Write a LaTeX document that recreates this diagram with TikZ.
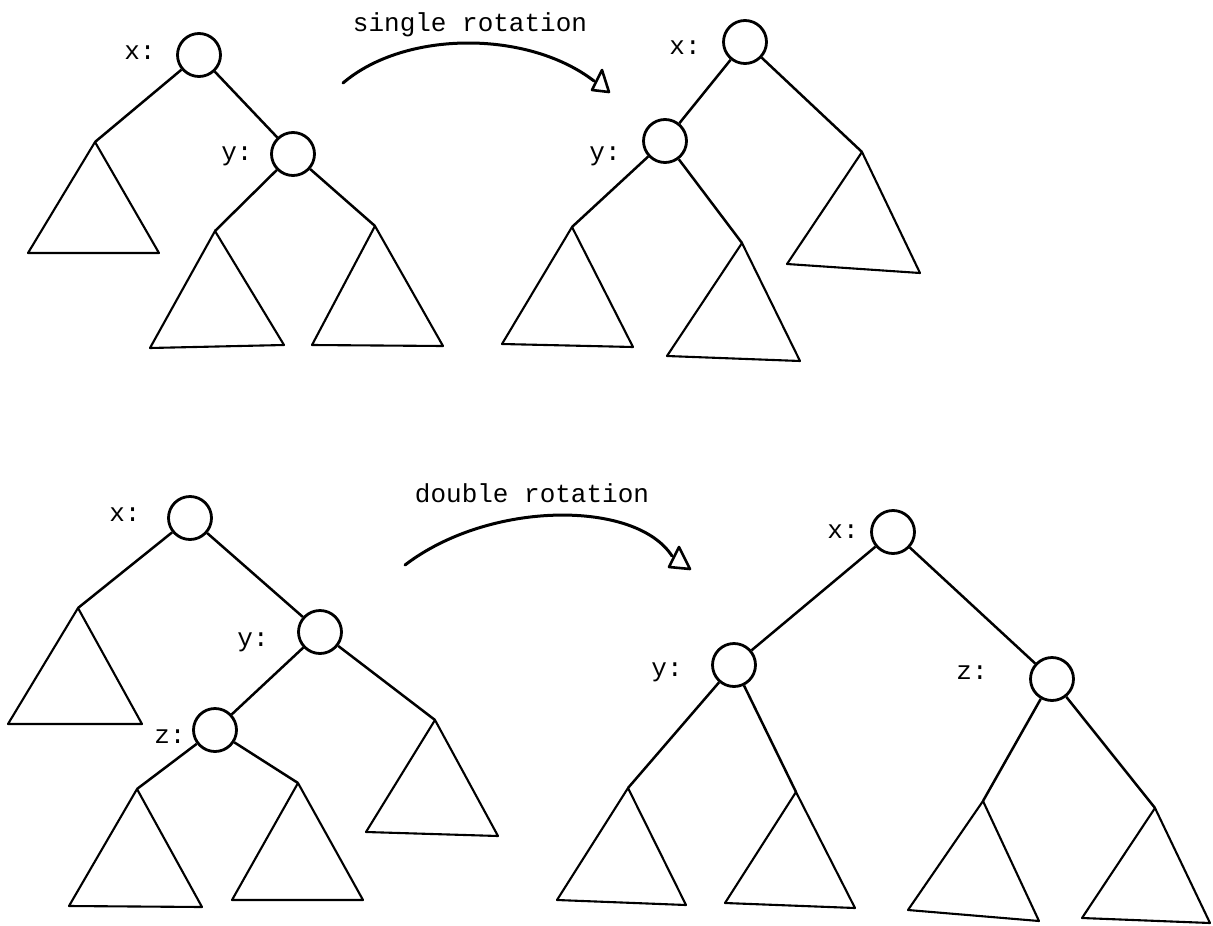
\documentclass[tikz,border=0pt]{standalone}
\usepackage{fontspec}
\setmonofont{Liberation Mono}
\begin{document}
\begin{tikzpicture}[x=1pt,y=-1pt,
  nd/.style={circle,draw,line width=2.8pt,minimum size=43pt,inner sep=0pt},
  lbl/.style={font=\ttfamily\fontsize{26}{26}\selectfont,inner sep=0pt},
  edge/.style={line width=2.5pt},
  tri/.style={line width=2.1pt,line join=round},
  rot/.style={line width=3pt,line cap=round},
  delta/.style={line width=2.6pt,line join=round}]
\useasboundingbox (0,0) rectangle (1213,926);

% ---------- top-left tree ----------
\node[nd] (Ax) at (199,55) {};
\node[lbl] (Axl) at (140,53) {x:};
\node[nd] (Ay) at (293,154) {};
\node[lbl] (Ayl) at (237,156) {y:};
\coordinate (Al) at (95,142);
\coordinate (Ayla) at (215,231);
\coordinate (Ayra) at (375,226);
\draw[edge] (Ax) -- (Al);
\draw[edge] (Ax) -- (Ay);
\draw[edge] (Ay) -- (Ayla);
\draw[edge] (Ay) -- (Ayra);
\draw[tri] (Al) -- (28,253) -- (159,253) -- cycle;
\draw[tri] (Ayla) -- (150,348) -- (284,345) -- cycle;
\draw[tri] (Ayra) -- (312,345) -- (443,346) -- cycle;

% ---------- top arrow ----------
\node[lbl] (t1) at (470,25) {single rotation};
\coordinate (r1s) at (343,83);
\coordinate (r1e) at (594,81);
\draw[rot] (r1s) .. controls (405,30) and (528,30) .. (r1e);
\draw[delta] (602,70) -- (592,90) -- (609,92) -- cycle;

% ---------- top-right tree ----------
\node[nd] (Bx) at (745,42) {};
\node[lbl] (Bxl) at (685,48) {x:};
\node[nd] (By) at (665,141) {};
\node[lbl] (Byl) at (605,156) {y:};
\coordinate (Bxra) at (862,152);
\coordinate (Byla) at (572,227);
\coordinate (Byra) at (742,243);
\draw[edge] (Bx) -- (By);
\draw[edge] (Bx) -- (Bxra);
\draw[edge] (By) -- (Byla);
\draw[edge] (By) -- (Byra);
\draw[tri] (Bxra) -- (787,264) -- (920,273) -- cycle;
\draw[tri] (Byla) -- (502,344) -- (633,347) -- cycle;
\draw[tri] (Byra) -- (667,356) -- (800,361) -- cycle;

% ---------- bottom-left tree ----------
\node[nd] (Cx) at (190,518) {};
\node[lbl] (Cxl) at (125,515) {x:};
\node[nd] (Cy) at (320,632) {};
\node[lbl] (Cyl) at (253,642) {y:};
\node[nd] (Cz) at (215,730) {};
\node[lbl] (Czl) at (170,737) {z:};
\coordinate (Cla) at (78,608);
\coordinate (Cyra) at (435,720);
\coordinate (Czla) at (137,789);
\coordinate (Czra) at (298,783);
\draw[edge] (Cx) -- (Cla);
\draw[edge] (Cx) -- (Cy);
\draw[edge] (Cy) -- (Cz);
\draw[edge] (Cy) -- (Cyra);
\draw[edge] (Cz) -- (Czla);
\draw[edge] (Cz) -- (Czra);
\draw[tri] (Cla) -- (8,724) -- (142,724) -- cycle;
\draw[tri] (Cyra) -- (366,832) -- (498,836) -- cycle;
\draw[tri] (Czla) -- (69,906) -- (202,907) -- cycle;
\draw[tri] (Czra) -- (232,900) -- (363,900) -- cycle;

% ---------- bottom arrow ----------
\node[lbl] (t2) at (532,493) {double rotation};
\coordinate (r2s) at (405,565);
\coordinate (r2e) at (672,556);
\draw[rot] (r2s) .. controls (490,500) and (636,500) .. (r2e);
\draw[delta] (679,547) -- (669,567) -- (690,569) -- cycle;

% ---------- bottom-right tree ----------
\node[nd] (Dx) at (893,532) {};
\node[lbl] (Dxl) at (843,532) {x:};
\node[nd] (Dy) at (734,665) {};
\node[lbl] (Dyl) at (667,672) {y:};
\node[nd] (Dz) at (1052,679) {};
\node[lbl] (Dzl) at (972,673) {z:};
\coordinate (Dyla) at (628,788);
\coordinate (Dyra) at (796,792);
\coordinate (Dzla) at (983,801);
\coordinate (Dzra) at (1155,808);
\draw[edge] (Dx) -- (Dy);
\draw[edge] (Dx) -- (Dz);
\draw[edge] (Dy) -- (Dyla);
\draw[edge] (Dy) -- (Dyra);
\draw[edge] (Dz) -- (Dzla);
\draw[edge] (Dz) -- (Dzra);
\draw[tri] (Dyla) -- (557,900) -- (686,905) -- cycle;
\draw[tri] (Dyra) -- (725,903) -- (855,908) -- cycle;
\draw[tri] (Dzla) -- (908,910) -- (1039,921) -- cycle;
\draw[tri] (Dzra) -- (1082,918) -- (1210,923) -- cycle;
\end{tikzpicture}
\end{document}
